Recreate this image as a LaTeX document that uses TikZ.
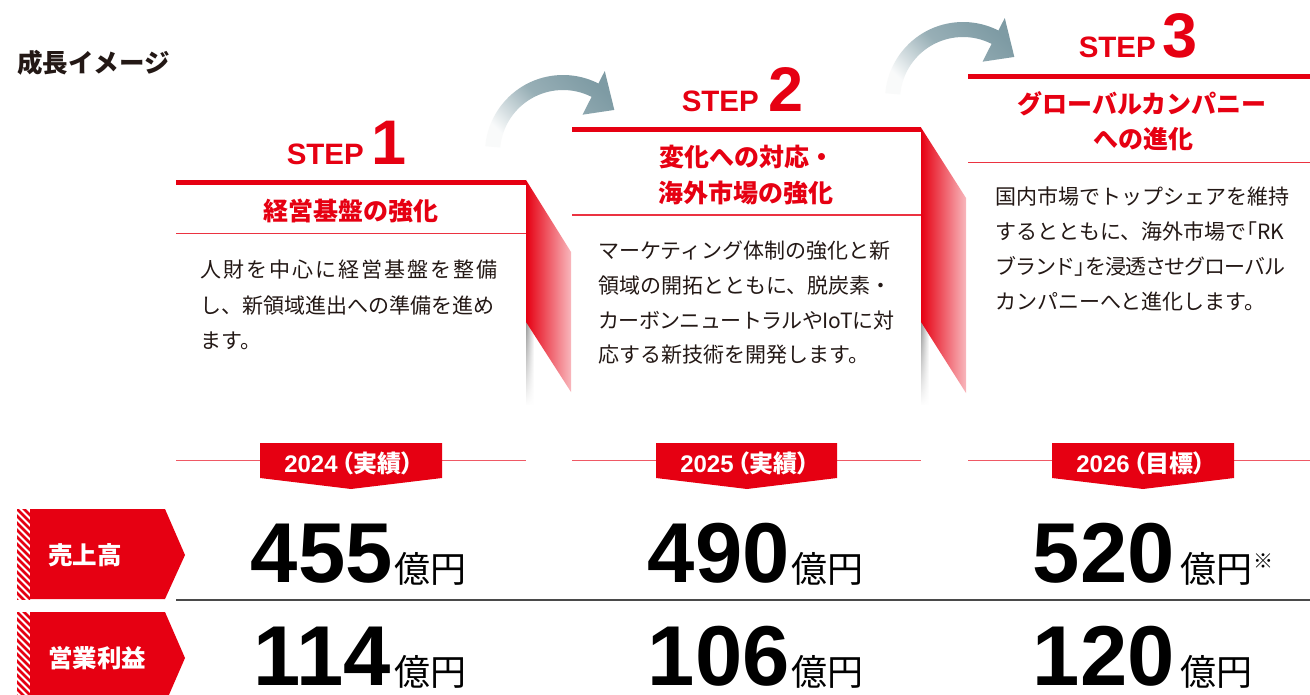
\documentclass[tikz,border=0pt]{standalone}
\usepackage{fontspec}
\setmainfont{Noto Sans CJK JP}
\newfontfamily\jppalt[RawFeature=+palt]{Noto Sans CJK JP}
\newfontfamily\latin{Liberation Sans}
\usetikzlibrary{fadings}
\definecolor{brand}{HTML}{E60012}
\definecolor{arrowc}{HTML}{7E9BA4}
\definecolor{inkc}{HTML}{231815}
\definecolor{sepc}{HTML}{4A4A4A}
\tikzfading[name=fadedown, top color=transparent!0, bottom color=transparent!100]
\def\spaced#1#2{\def\spk{#1}\spacedi#2\relax}
\def\spacedi#1{\ifx#1\relax\else#1\kern\spk\expandafter\spacedi\fi}
\tikzset{
  heading/.style={inner sep=0pt, anchor=base west, text=inkc, font=\fontsize{25.5}{25.5}\selectfont\bfseries},
  steplbl/.style={inner sep=0pt, anchor=base east, text=brand, font=\latin\fontsize{29.5}{29.5}\selectfont\bfseries},
  stepnum/.style={inner sep=0pt, anchor=base west, text=brand, font=\latin\fontsize{63}{63}\selectfont\bfseries},
  ttl/.style={inner sep=0pt, anchor=base, text=brand, font=\fontsize{25}{25}\selectfont\bfseries},
  body/.style={inner sep=0pt, anchor=base west, text=inkc, font=\fontsize{21}{21}\selectfont},
  topline/.style={brand, line width=5pt},
  subline/.style={brand!80, line width=1.3pt},
  yearline/.style={brand!65, line width=1.3pt},
  banner/.style={fill=brand},
  yeartxt/.style={inner sep=0pt, anchor=base, text=white, font=\jppalt\fontsize{24}{24}\selectfont\bfseries},
  fold/.style={left color=brand, right color=brand!28},
  shadowstrip/.style={left color=black!40, right color=white, path fading=fadedown},
  rowlbl/.style={fill=brand},
  rowtxt/.style={inner sep=0pt, anchor=base west, text=white, font=\fontsize{24.5}{24.5}\selectfont\bfseries},
  bignum/.style={inner sep=0pt, anchor=base east, text=black, font=\latin\fontsize{85}{85}\selectfont\bfseries},
  unit/.style={inner sep=0pt, anchor=base west, text=black, font=\fontsize{36}{36}\selectfont},
  note/.style={inner sep=0pt, text=black, font=\fontsize{20}{20}\selectfont},
  sepline/.style={sepc, line width=1.5pt},
  curvearrow/.style={top color=arrowc, bottom color=arrowc!5, middle color=arrowc!80, shading angle=-45},
  stripe/.style={brand, line width=2.6pt},
}
\begin{document}
\begin{tikzpicture}[x=1pt,y=-1pt]
\useasboundingbox (0,0) rectangle (1310,695);
\fill[white] (0,0) rectangle (1310,695);

% heading
\node[heading] (head) at (17,73) {成長イメージ};

% curved arrows
\begin{scope}[shift={(563,153)}]
\shade[curvearrow] (-175:78) arc[start angle=-175, end angle=-63, radius=78] -- (-63:92) -- (-40:67) -- (-63:43) -- (-63:63) arc[start angle=-63, end angle=-175, radius=63] -- cycle;
\end{scope}
\begin{scope}[shift={(963,100)}]
\shade[curvearrow] (-175:78) arc[start angle=-175, end angle=-63, radius=78] -- (-63:92) -- (-40:67) -- (-63:43) -- (-63:63) arc[start angle=-63, end angle=-175, radius=63] -- cycle;
\end{scope}

% shadows and folds
\shade[shadowstrip] (526,322) rectangle (534,405);
\shade[shadowstrip] (921,322) rectangle (929,405);
\shade[fold] (526,180) -- (571,252) -- (571,392) -- (526,322) -- cycle;
\shade[fold] (921,127.5) -- (966,198) -- (966,393) -- (921,322) -- cycle;

% STEP 1
\node[steplbl] (s1) at (364,165) {STEP};
\node[stepnum] (n1) at (371,165) {1};
\draw[topline] (176,182.5) -- (526,182.5);
\node[ttl] (t1) at (351,220.5) {経営基盤の強化};
\draw[subline] (176,233.5) -- (526,233.5);
\node[body] (b11) at (200,278) {\spaced{2pt}{人財を中心に経営基盤を整備}};
\node[body] (b12) at (200,313) {し、新領域進出への準備を進め};
\node[body] (b13) at (200,348) {ます。};

% STEP 2
\node[steplbl] (s2) at (759,112) {STEP};
\node[stepnum] (n2) at (768,112) {2};
\draw[topline] (572,130) -- (921,130);
\node[ttl] (t2a) at (747,166.5) {変化への対応・};
\node[ttl] (t2b) at (746,203) {海外市場の強化};
\draw[subline] (572,215) -- (921,215);
\node[body] (b21) at (598,259) {マーケティング体制の強化と新};
\node[body] (b22) at (598,294) {領域の開拓とともに、脱炭素・};
\node[body] (b23) at (598,328) {\spaced{-0.6pt}{カーボンニュートラルや}IoTに対};
\node[body] (b24) at (598,362) {応する新技術を開発します。};

% STEP 3
\node[steplbl] (s3) at (1156,58) {STEP};
\node[stepnum] (n3) at (1162.5,58) {3};
\draw[topline] (968,76.7) -- (1310,76.7);
\node[ttl] (t3a) at (1142,113.5) {グローバルカンパニー};
\node[ttl] (t3b) at (1143,148.5) {への進化};
\draw[subline] (968,162.7) -- (1310,162.7);
\node[body] (b31) at (995,205) {国内市場でトップシェアを維持};
\node[body] (b32) at (995,240) {するとともに、海外市場で{\jppalt 「}RK};
\node[body] (b33) at (995,275) {\spaced{-1.1pt}{ブランド}{\jppalt 」}\spaced{-1.1pt}{を浸透させグローバル}};
\node[body] (b34) at (995,309) {カンパニーへと進化します。};

% year banners
\draw[yearline] (176,460.5) -- (260,460.5);
\draw[yearline] (442,460.5) -- (526,460.5);
\draw[yearline] (572,460.5) -- (656,460.5);
\draw[yearline] (837,460.5) -- (921,460.5);
\draw[yearline] (968,460.5) -- (1052,460.5);
\draw[yearline] (1234,460.5) -- (1310,460.5);
\fill[banner] (260,443) -- (442,443) -- (442,478) -- (351,489) -- (260,478) -- cycle;
\fill[banner] (656,443) -- (837,443) -- (837,478) -- (747,489) -- (656,478) -- cycle;
\fill[banner] (1052,443) -- (1234,443) -- (1234,478) -- (1143,489) -- (1052,478) -- cycle;
\node[yeartxt] (y1) at (349,472.5) {{\latin 2024}\hspace{4pt}（実績）};
\node[yeartxt] (y2) at (745,472.5) {{\latin 2025}\hspace{4pt}（実績）};
\node[yeartxt] (y3) at (1141,472.5) {{\latin 2026}\hspace{4pt}（目標）};

% row labels
\fill[rowlbl] (30,509) -- (165,509) -- (185,555) -- (165,599) -- (30,599) -- cycle;
\fill[rowlbl] (30,612) -- (165,612) -- (185,658) -- (165,704) -- (30,704) -- cycle;
\begin{scope}
\clip (17,509) rectangle (30,599);
\foreach \yy in {490,497,...,610} {\draw[stripe] (5,\yy) -- ++(30,30);}
\end{scope}
\begin{scope}
\clip (17,612) rectangle (30,704);
\foreach \yy in {593,600,...,713} {\draw[stripe] (5,\yy) -- ++(30,30);}
\end{scope}
\node[rowtxt] (r1) at (48,564) {売上高};
\node[rowtxt] (r2) at (48,667.5) {営業利益};

% separator
\draw[sepline] (176,600) -- (1310,600);

% figures
\node[bignum] (v11) at (393,582) {455};
\node[unit] (u11) at (394,582) {億円};
\node[bignum] (v12) at (391,685) {114};
\node[unit] (u12) at (394,685) {億円};
\node[bignum] (v21) at (790,582) {490};
\node[unit] (u21) at (791,582) {億円};
\node[bignum] (v22) at (790,685) {106};
\node[unit] (u22) at (791,685) {億円};
\node[bignum] (v31) at (1175,582) {520};
\node[unit] (u31) at (1180,582) {億円};
\node[note] (nt) at (1263.5,561.5) {※};
\node[bignum] (v32) at (1175,685) {120};
\node[unit] (u32) at (1180,685) {億円};
\end{tikzpicture}
\end{document}
